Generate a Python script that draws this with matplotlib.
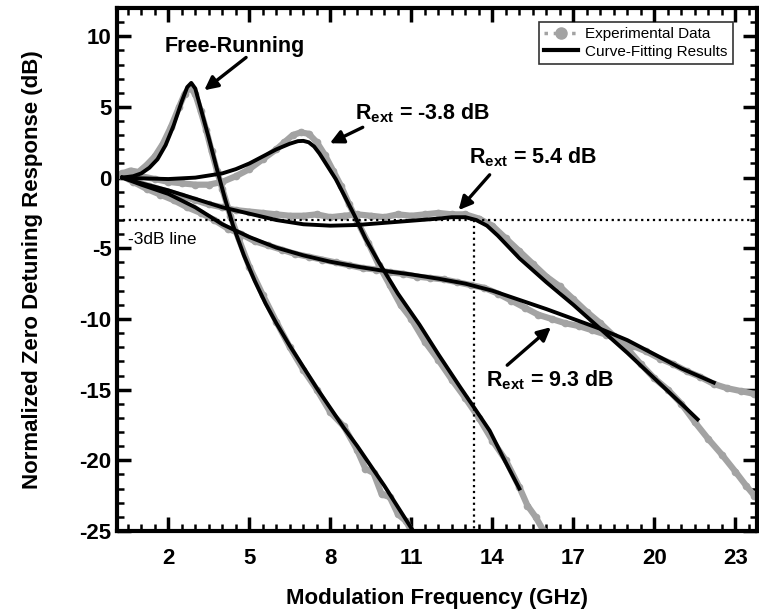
import matplotlib
matplotlib.use('Agg')
import matplotlib.pyplot as plt
from matplotlib.lines import Line2D
from matplotlib.ticker import MultipleLocator, FixedLocator

plt.rcParams['font.family'] = ['Liberation Sans', 'DejaVu Sans']
plt.rcParams['mathtext.fontset'] = 'custom'
plt.rcParams['mathtext.rm'] = 'Liberation Sans:bold'
plt.rcParams['mathtext.bf'] = 'Liberation Sans:bold'
plt.rcParams['axes.unicode_minus'] = False

# --- experimental data (gray) ---
fr_x = [0.3, 0.6, 0.9, 1.2, 1.5, 1.8, 2.1, 2.4, 2.6, 2.8, 3.0, 3.2, 3.4, 3.6, 3.8, 4.0,
        4.3, 4.6, 5.0, 5.5, 6.0, 6.5, 7.0, 7.5, 8.0, 8.5, 9.0, 9.3, 9.6, 9.9, 10.2, 10.5,
        10.8, 11.0]
fr_y = [0.3, 0.5, 0.4, 0.9, 1.5, 2.4, 3.6, 5.0, 5.9, 6.4, 5.9, 4.7, 3.4, 1.9, 0.5, -0.8,
        -2.7, -4.3, -6.3, -8.3, -10.2, -12.0, -13.6, -15.0, -16.6, -17.6, -19.3, -20.6,
        -20.9, -22.4, -22.6, -23.8, -24.3, -25.0]

m38_x = [0.3, 0.7, 1.0, 1.5, 2.0, 2.5, 3.0, 3.5, 4.0, 4.5, 5.0, 5.5, 6.0, 6.3, 6.6, 6.9,
         7.2, 7.5, 7.8, 8.1, 8.4, 8.7, 9.0, 9.4, 9.8, 10.2, 10.6, 11.0, 11.5, 12.0, 12.5,
         13.0, 13.5, 14.0, 14.5, 15.0, 15.3, 15.6, 15.9]
m38_y = [0.2, 0.3, 0.1, -0.1, -0.3, -0.4, -0.5, -0.5, -0.3, 0.1, 0.6, 1.3, 2.0, 2.5, 3.0,
         3.2, 3.1, 2.5, 1.6, 0.5, -0.6, -1.9, -3.1, -4.6, -6.2, -7.6, -9.0, -10.0, -11.6,
         -12.9, -14.3, -15.6, -17.0, -18.6, -20.0, -21.9, -23.2, -24.0, -25.0]

p54_x = [0.3, 0.8, 1.3, 2.0, 2.5, 3.0, 3.5, 4.0, 4.5, 5.0, 5.5, 6.0, 6.5, 7.0, 7.5, 8.0,
         8.5, 9.0, 9.5, 10.0, 10.5, 11.0, 11.5, 12.0, 12.5, 13.0, 13.5, 14.0, 14.5, 15.0,
         15.5, 16.0, 16.5, 17.0, 17.5, 18.0, 18.5, 19.0, 19.5, 20.0, 20.5, 21.0, 21.5,
         22.0, 22.5, 23.0, 23.4, 23.7]
p54_y = [0.1, -0.3, -0.6, -1.0, -1.3, -1.6, -1.9, -2.1, -2.3, -2.4, -2.5, -2.6, -2.7,
         -2.7, -2.6, -2.8, -2.7, -2.6, -2.7, -2.8, -2.6, -2.7, -2.6, -2.5, -2.6, -2.6,
         -2.9, -3.4, -4.3, -5.2, -6.1, -7.0, -7.7, -8.6, -9.5, -10.3, -11.2, -12.1, -13.2,
         -14.2, -15.0, -16.0, -17.3, -18.5, -19.6, -20.8, -21.8, -22.5]

p93_x = [0.3, 0.7, 1.2, 1.7, 2.2, 2.7, 3.2, 3.7, 4.2, 4.7, 5.2, 5.7, 6.2, 6.7, 7.2, 7.7,
         8.2, 8.7, 9.2, 9.7, 10.2, 10.7, 11.2, 11.7, 12.2, 12.7, 13.2, 13.7, 14.2, 14.7,
         15.2, 15.7, 16.2, 16.7, 17.2, 17.7, 18.2, 18.7, 19.2, 19.7, 20.2, 20.7, 21.2,
         21.7, 22.2, 22.7, 23.2, 23.7]
p93_y = [0.1, -0.3, -0.8, -1.2, -1.6, -2.1, -2.5, -3.0, -3.6, -4.0, -4.5, -4.8, -5.1,
         -5.4, -5.6, -5.8, -6.0, -6.2, -6.4, -6.5, -6.7, -6.8, -7.0, -7.1, -7.2, -7.4,
         -7.6, -7.8, -8.2, -8.7, -9.2, -9.7, -10.0, -10.3, -10.5, -10.8, -11.1, -11.5,
         -11.9, -12.3, -12.8, -13.2, -13.7, -14.1, -14.6, -14.9, -15.1, -15.3]

# --- curve-fitting results (black) ---
frf_x = [0.3, 0.7, 1.0, 1.3, 1.6, 1.9, 2.2, 2.5, 2.7, 2.85, 3.0, 3.2, 3.5, 3.8, 4.1, 4.4,
         4.8, 5.2, 5.6, 6.0, 6.5, 7.0, 7.5, 8.0, 8.5, 9.0, 9.5, 10.0, 10.5, 11.0]
frf_y = [0.0, 0.1, 0.3, 0.7, 1.3, 2.3, 3.7, 5.4, 6.4, 6.7, 6.3, 4.9, 2.8, 0.6, -1.5, -3.4,
         -5.5, -7.3, -8.9, -10.3, -11.9, -13.4, -14.9, -16.3, -17.7, -19.0, -20.4, -21.8,
         -23.3, -24.8]

m38f_x = [0.3, 1.0, 2.0, 3.0, 4.0, 4.5, 5.0, 5.5, 6.0, 6.5, 6.8, 7.0, 7.2, 7.4, 7.6, 7.8,
          8.0, 8.2, 8.5, 8.9, 9.3, 9.8, 10.5, 11.3, 12.0, 12.8, 13.3, 13.9, 14.4, 15.0]
m38f_y = [0.0, -0.05, -0.1, 0.0, 0.3, 0.6, 1.0, 1.5, 2.0, 2.4, 2.58, 2.6, 2.5, 2.2, 1.7,
          1.1, 0.5, -0.1, -1.2, -2.7, -4.3, -6.0, -8.2, -10.4, -12.5, -14.8, -16.2, -17.9,
          -19.8, -22.0]

p54f_x = [0.3, 1.0, 2.0, 3.0, 4.0, 5.0, 6.0, 7.0, 8.0, 9.0, 10.0, 11.0, 12.0, 12.5, 13.0,
          13.4, 13.8, 14.2, 14.6, 15.0, 16.0, 17.0, 18.0, 19.0, 20.0, 21.0, 21.6]
p54f_y = [0.0, -0.4, -0.9, -1.5, -2.1, -2.55, -3.0, -3.3, -3.4, -3.35, -3.2, -3.05, -2.9,
          -2.8, -2.8, -3.0, -3.4, -4.1, -4.9, -5.7, -7.4, -9.0, -10.7, -12.4, -14.2, -16.0,
          -17.1]

p93f_x = [0.3, 1.0, 2.0, 3.0, 4.0, 5.0, 6.0, 7.0, 8.0, 9.0, 10.0, 11.0, 12.0, 13.0, 14.0,
          15.0, 16.0, 17.0, 18.0, 19.0, 20.0, 21.0, 22.2]
p93f_y = [0.0, -0.5, -1.15, -2.1, -3.3, -4.2, -4.95, -5.5, -5.95, -6.3, -6.6, -6.85,
          -7.15, -7.5, -8.0, -8.65, -9.3, -10.0, -10.7, -11.5, -12.5, -13.5, -14.5]

x_ticks = [2, 5, 8, 11, 14, 17, 20, 23]
f3db = 13.33

gray = '#a3a3a3'

fig = plt.figure(figsize=(7.59, 6.15), dpi=100)
ax = fig.add_axes([117 / 759, 1 - 531 / 615, 640 / 759, 523 / 615])

for xs, ys in [(fr_x, fr_y), (m38_x, m38_y), (p54_x, p54_y), (p93_x, p93_y)]:
    ax.plot(xs, ys, color=gray, lw=4.5, marker='o', ms=4.5, zorder=2)

for xs, ys in [(frf_x, frf_y), (m38f_x, m38f_y), (p54f_x, p54f_y), (p93f_x, p93f_y)]:
    ax.plot(xs, ys, color='black', lw=2.8, zorder=3)

# -3 dB reference lines
ax.axhline(-3, color='black', ls=':', lw=1.6, zorder=4)
ax.plot([f3db, f3db], [-3, -25], color='black', ls=':', lw=1.6, zorder=4)
ax.text(0.5, -4.4, '-3dB line', fontsize=12.5, va='center', ha='left')

# annotations: text and arrows
akw = dict(arrowstyle='-|>', mutation_scale=20, color='black', lw=2.4,
           shrinkA=0, shrinkB=0)
tkw = dict(fontsize=15.5, fontweight='bold', va='center')
ax.text(4.45, 9.3, 'Free-Running', ha='center', **tkw)
ax.annotate('', xy=(3.33, 6.18), xytext=(4.88, 8.5), arrowprops=akw)
ax.text(8.9, 4.55, 'R$_{\\mathrm{ext}}$ = -3.8 dB', ha='left', **tkw)
ax.annotate('', xy=(7.98, 2.43), xytext=(9.2, 3.56), arrowprops=akw)
ax.text(13.15, 1.45, 'R$_{\\mathrm{ext}}$ = 5.4 dB', ha='left', **tkw)
ax.annotate('', xy=(12.75, -2.3), xytext=(13.9, 0.2), arrowprops=akw)
ax.text(13.77, -14.33, 'R$_{\\mathrm{ext}}$ = 9.3 dB', ha='left', **tkw)
ax.annotate('', xy=(16.17, -10.58), xytext=(14.55, -13.27), arrowprops=akw)

ax.set_xlim(0.1, 23.8)
ax.set_ylim(-25, 12)
ax.xaxis.set_major_locator(FixedLocator(x_ticks))
ax.xaxis.set_minor_locator(MultipleLocator(0.5))
ax.yaxis.set_major_locator(MultipleLocator(5))
ax.yaxis.set_minor_locator(MultipleLocator(1))
ax.tick_params(which='both', direction='in', top=True, right=True)
ax.tick_params(which='major', length=10, width=2.5)
ax.tick_params(which='minor', length=5, width=1.8)
ax.tick_params(axis='x', which='major', pad=12)
ax.tick_params(axis='y', which='major', pad=4)
for lab in ax.get_xticklabels() + ax.get_yticklabels():
    lab.set_fontsize(16)
    lab.set_fontweight('bold')
for sp in ax.spines.values():
    sp.set_linewidth(3)

ax.set_xlabel('Modulation Frequency (GHz)', fontsize=16, fontweight='bold', labelpad=14)
ax.set_ylabel('Normalized Zero Detuning Response (dB)', fontsize=16, fontweight='bold',
              labelpad=26)

handles = [Line2D([], [], color=gray, ls=':', lw=2.5, marker='o', ms=8),
           Line2D([], [], color='black', lw=3)]
leg = ax.legend(handles, ['Experimental Data', 'Curve-Fitting Results'], loc='upper right',
                bbox_to_anchor=(0.9625, 0.973), borderaxespad=0, fontsize=11,
                frameon=True, fancybox=False, edgecolor='black', handlelength=2.2,
                handletextpad=0.5, borderpad=0.35, labelspacing=0.2)
leg.get_frame().set_linewidth(1.2)

fig.savefig('out.png', dpi=100)
